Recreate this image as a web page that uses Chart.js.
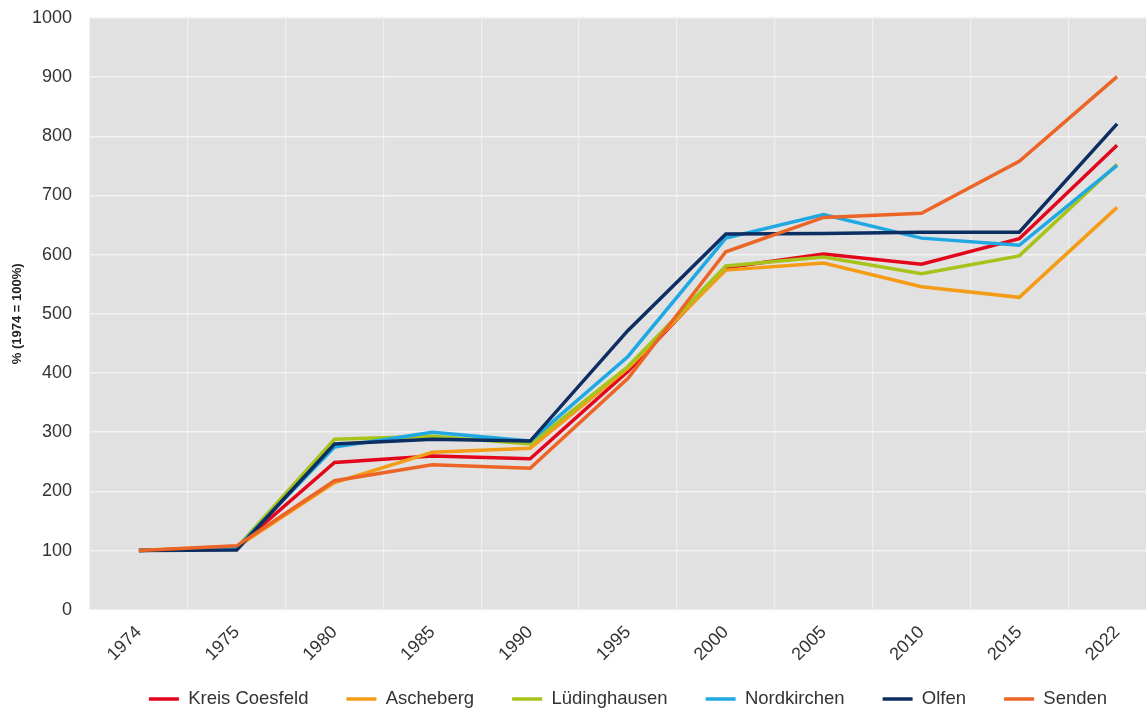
<!DOCTYPE html>
<html lang="de">
<head>
<meta charset="utf-8">
<title>Entwicklung 1974–2022</title>
<script src="https://cdn.jsdelivr.net/npm/chart.js@4.4.1/dist/chart.umd.min.js"></script>
<style>
  html, body { margin: 0; padding: 0; background: #ffffff; overflow: hidden; }
  #wrap { width: 1180px; height: 713px; }
</style>
</head>
<body>
<div id="wrap"><canvas id="chart" width="1180" height="713"></canvas></div>
<script>
// Jahre (Kategorien)
const years = ['1974', '1975', '1980', '1985', '1990', '1995', '2000', '2005', '2010', '2015', '2022'];

// Indexwerte je Gemeinde (1974 = 100 %)
const kreisCoesfeld = [100, 105, 249, 260, 255, 403, 578, 601, 584, 627, 785];
const ascheberg     = [100, 106, 215, 266, 273, 408, 574, 586, 546, 528, 680];
const luedinghausen = [100, 105, 288, 293, 280, 411, 581, 596, 568, 598, 753];
const nordkirchen   = [100, 104, 275, 300, 285, 428, 628, 668, 628, 616, 751];
const olfen         = [100, 101, 280, 288, 285, 472, 635, 636, 638, 638, 821];
const senden        = [100, 108, 218, 245, 239, 391, 605, 663, 670, 758, 901];

// Achsenbeschriftung
const yTitle = '% (1974 = 100%)';
const yMin = 0, yMax = 1000, yStep = 100;

const seriesNames  = ['Kreis Coesfeld', 'Ascheberg', 'Lüdinghausen', 'Nordkirchen', 'Olfen', 'Senden'];
const seriesValues = [kreisCoesfeld, ascheberg, luedinghausen, nordkirchen, olfen, senden];
const seriesColors = ['#e3051b', '#f59c17', '#a7c31a', '#1fa8e1', '#0c2e62', '#ec6527'];

const FONT = "'Liberation Sans', Arial, sans-serif";
const TEXT = '#333333';

// grauer Hintergrund der Zeichenfläche
const plotBackground = {
  id: 'plotBackground',
  beforeDraw(chart) {
    const { ctx, chartArea: a } = chart;
    ctx.save();
    ctx.fillStyle = '#e1e1e1';
    ctx.fillRect(a.left, a.top, a.right - a.left, a.bottom - a.top);
    ctx.restore();
  }
};

const datasets = seriesNames.map((name, i) => ({
  label: name,
  data: seriesValues[i],
  borderColor: seriesColors[i],
  backgroundColor: seriesColors[i],
  borderWidth: 3.5,
  pointRadius: 0,
  pointHoverRadius: 0,
  tension: 0,
  fill: false,
  pointStyle: 'line',
  order: seriesNames.length - i   // spätere Reihen liegen oben
}));

new Chart(document.getElementById('chart'), {
  type: 'line',
  data: { labels: years, datasets },
  plugins: [plotBackground],
  options: {
    responsive: false,
    animation: false,
    layout: { padding: { left: 0, right: 14, top: 18, bottom: -5.25 } },
    plugins: {
      tooltip: { enabled: false },
      legend: {
        position: 'bottom',
        fullSize: false,
        // leerer Titel mit negativem Abstand: rückt die Einträge näher an die Achse
        title: { display: true, text: '', font: { size: 1, lineHeight: 1 }, padding: { top: -20, bottom: 0 } },
        labels: {
          usePointStyle: true,
          pointStyleWidth: 30,
          padding: 38,
          color: TEXT,
          font: { family: FONT, size: 18.5 },
          sort: (a, b) => a.datasetIndex - b.datasetIndex
        }
      }
    },
    scales: {
      x: {
        type: 'category',
        offset: true,
        grid: { offset: true, color: '#efefef', lineWidth: 1.2, drawTicks: false },
        border: { display: false },
        ticks: {
          color: TEXT,
          font: { family: FONT, size: 18 },
          minRotation: 45,
          maxRotation: 45,
          padding: 12,
          autoSkip: false
        },
        afterFit(scale) { scale.height = 61; }
      },
      y: {
        min: yMin,
        max: yMax,
        grid: { color: '#f3f3f3', lineWidth: 1.5, drawTicks: true, tickLength: 18, tickColor: 'rgba(0,0,0,0)' },
        border: { display: false },
        ticks: {
          stepSize: yStep,
          color: TEXT,
          font: { family: FONT, size: 18 },
          padding: 0,
          callback: (v) => String(v)
        },
        title: {
          display: true,
          text: yTitle,
          color: '#222222',
          font: { family: FONT, size: 13, weight: 'bold' },
          padding: { top: 10, bottom: 0 }
        },
        afterFit(scale) { scale.width = 90; }
      }
    }
  }
});
</script>
</body>
</html>
